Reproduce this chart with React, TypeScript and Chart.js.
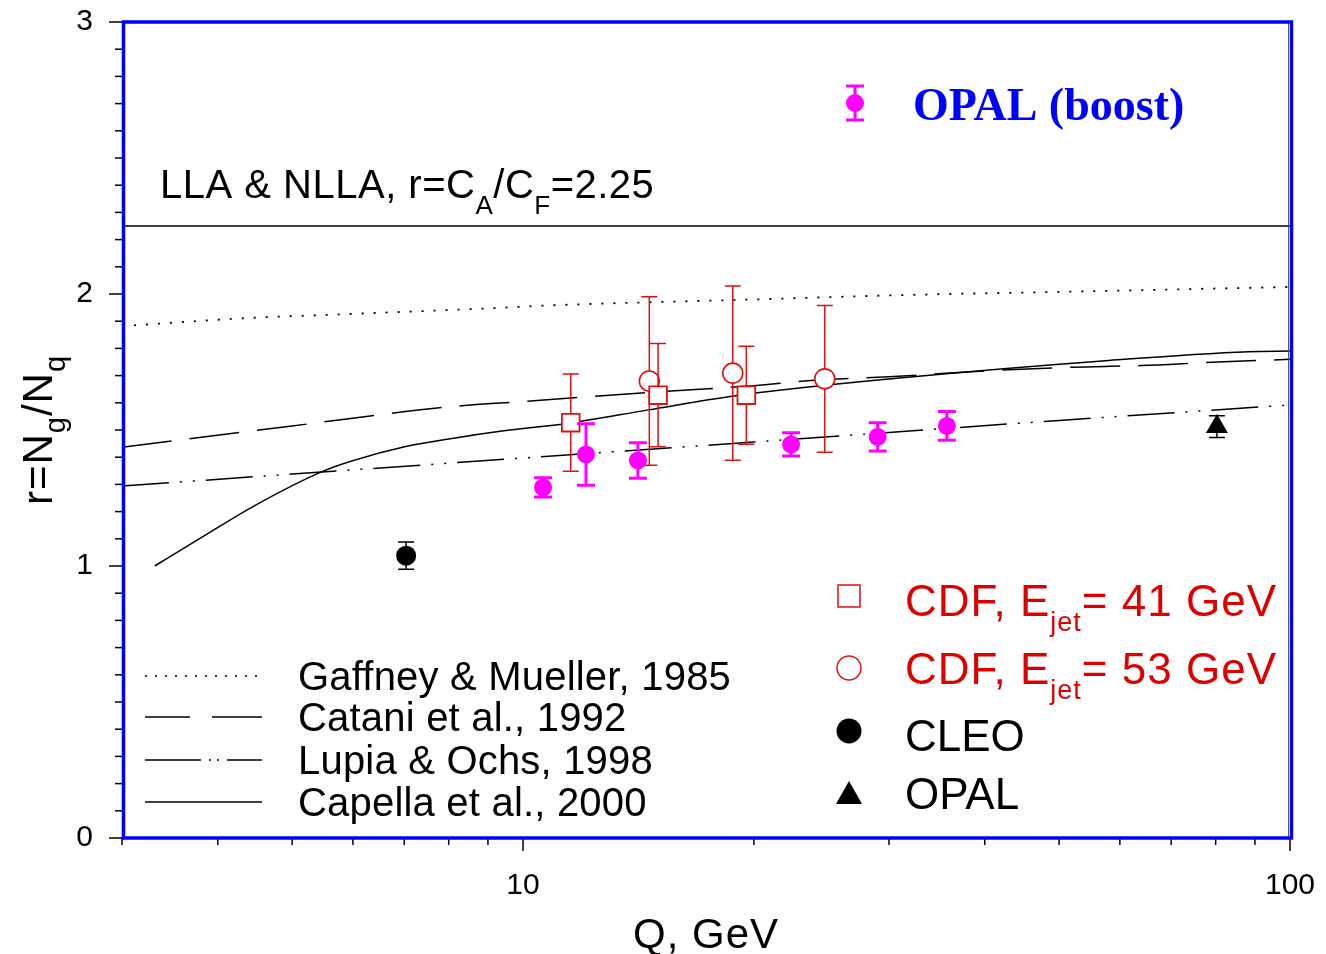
import React, { useEffect, useRef } from "react";
import { Chart, registerables } from "chart.js";

Chart.register(...registerables);

const SANS = "'Liberation Sans', Arial, Helvetica, sans-serif";
const SERIF = "'Liberation Serif', 'Times New Roman', serif";
const MAGENTA = "#ff00ff";
const RED = "#dd1111";
const RED_TEXT = "#dd0000";
const BLUE = "#0000ff";

// ---- axis ticks ----
const xTickValues = [3, 4, 5, 6, 7, 8, 9, 10, 20, 30, 40, 50, 60, 70, 80, 90, 100];
const xTickLabels = [10, 100];
const yTickLabels = [0, 1, 2, 3];

// ---- theory curves (Q in GeV, r) ----
const llaQ = [3, 100];
const llaR = [2.25, 2.25];

const gaffneyQ = [3, 4.34, 6, 9.47, 10.6, 20, 31.2, 50, 100];
const gaffneyR = [1.882, 1.911, 1.927, 1.95, 1.957, 1.98, 1.996, 2.008, 2.026];

const cataniQ = [3, 5, 8, 10, 15, 20, 24, 30, 42, 52, 64, 79, 100];
const cataniR = [1.437, 1.515, 1.585, 1.605, 1.64, 1.663, 1.683, 1.696, 1.72, 1.731, 1.737, 1.749, 1.76];

const lupiaQ = [3, 5, 10, 20, 30, 50, 100];
const lupiaR = [1.294, 1.338, 1.397, 1.456, 1.491, 1.535, 1.592];

const capellaQ = [3.31, 3.8, 4.48, 5.47, 5.98, 7.03, 8.08, 9.39, 11.47, 14.57, 18.92, 31.2, 56.9, 88.3, 100];
const capellaR = [1.0, 1.103, 1.224, 1.347, 1.386, 1.439, 1.469, 1.496, 1.525, 1.574, 1.626, 1.692, 1.754, 1.788, 1.79];

// ---- measurements ----
const opalBoostQ = [10.62, 12.08, 14.12, 22.36, 29.0, 35.7];
const opalBoostR = [1.289, 1.41, 1.388, 1.447, 1.475, 1.515];
const opalBoostErr = [0.035, 0.113, 0.065, 0.043, 0.052, 0.053];

const cdf41Q = [11.54, 15.0, 19.55];
const cdf41R = [1.527, 1.628, 1.628];
const cdf41Err = [0.179, 0.19, 0.18];

const cdf53Q = [14.61, 18.77, 24.74];
const cdf53R = [1.68, 1.709, 1.688];
const cdf53Err = [0.31, 0.32, 0.27];

const cleoQ = [7.04];
const cleoR = [1.038];
const cleoErr = [0.05];

const opalQ = [80.3];
const opalR = [1.512];
const opalErr = [0.04];

const pts = (q: number[], r: number[]) => q.map((x, i) => ({ x, y: r[i] }));

type Seg = { t: string; sub?: boolean };

function drawRich(
  ctx: CanvasRenderingContext2D,
  segs: Seg[],
  x: number,
  y: number,
  size: number,
  opts: { family?: string; weight?: string; color?: string; align?: "left" | "center"; spacing?: number; subScale?: number; subShift?: number } = {}
) {
  const family = opts.family || SANS;
  const weight = opts.weight || "normal";
  const subScale = opts.subScale ?? 0.65;
  const subShift = opts.subShift ?? 0.33;
  ctx.save();
  ctx.fillStyle = opts.color || "#000";
  ctx.textBaseline = "alphabetic";
  ctx.textAlign = "left";
  (ctx as any).letterSpacing = (opts.spacing || 0) + "px";
  const fontFor = (s: Seg) => `${weight} ${s.sub ? Math.round(size * subScale) : size}px ${family}`;
  let total = 0;
  for (const s of segs) {
    ctx.font = fontFor(s);
    total += ctx.measureText(s.t).width;
  }
  let cx = opts.align === "center" ? x - total / 2 : x;
  for (const s of segs) {
    ctx.font = fontFor(s);
    ctx.fillText(s.t, cx, y + (s.sub ? size * subShift : 0));
    cx += ctx.measureText(s.t).width;
  }
  ctx.restore();
}

const errorBarPlugin = {
  id: "errbars",
  beforeDatasetDraw(chart: any, args: any) {
    const ds = chart.data.datasets[args.index];
    if (!ds.errors) return;
    const ys = chart.scales.y;
    const ctx = chart.ctx as CanvasRenderingContext2D;
    ctx.save();
    ctx.strokeStyle = ds.errColor;
    ctx.lineWidth = ds.errWidth;
    ctx.setLineDash([]);
    args.meta.data.forEach((el: any, i: number) => {
      const v = ds.data[i].y;
      const e = ds.errors[i];
      const top = ys.getPixelForValue(v + e);
      const bot = ys.getPixelForValue(v - e);
      ctx.beginPath();
      ctx.moveTo(el.x, top);
      ctx.lineTo(el.x, bot);
      ctx.moveTo(el.x - ds.capHalf, top);
      ctx.lineTo(el.x + ds.capHalf, top);
      ctx.moveTo(el.x - ds.capHalf, bot);
      ctx.lineTo(el.x + ds.capHalf, bot);
      ctx.stroke();
    });
    ctx.restore();
  },
};

const decorPlugin = {
  id: "decor",
  afterDraw(chart: any) {
    const ctx = chart.ctx as CanvasRenderingContext2D;
    const ca = chart.chartArea;
    const xs = chart.scales.x;
    const ys = chart.scales.y;

    // ticks outside the frame
    ctx.save();
    ctx.strokeStyle = "#000";
    ctx.lineWidth = 1.5;
    ctx.setLineDash([]);
    ys.ticks.forEach((t: any) => {
      const py = ys.getPixelForValue(t.value);
      const major = yTickLabels.some((l) => Math.abs(l - t.value) < 1e-6);
      ctx.beginPath();
      ctx.moveTo(ca.left - (major ? 13 : 7), py);
      ctx.lineTo(ca.left, py);
      ctx.stroke();
    });
    xs.ticks.forEach((t: any) => {
      const px = xs.getPixelForValue(t.value);
      const major = xTickLabels.some((l) => Math.abs(l - t.value) < 1e-6);
      ctx.beginPath();
      ctx.moveTo(px, ca.bottom);
      ctx.lineTo(px, ca.bottom + (major ? 13 : 7));
      ctx.stroke();
    });
    ctx.restore();

    // frame
    ctx.save();
    ctx.strokeStyle = "#555";
    ctx.lineWidth = 1;
    ctx.beginPath();
    ctx.moveTo(ca.right - 1.5, ca.top);
    ctx.lineTo(ca.right - 1.5, ca.bottom);
    ctx.stroke();
    ctx.strokeStyle = BLUE;
    ctx.lineWidth = 3.5;
    ctx.strokeRect(ca.left + 1.5, ca.top, ca.right - ca.left, ca.bottom - ca.top);
    ctx.restore();

    // axis titles
    drawRich(ctx, [{ t: "Q, GeV" }], 706, 948, 42, { align: "center", spacing: 1 });
    ctx.save();
    ctx.translate(52, 430);
    ctx.rotate(-Math.PI / 2);
    drawRich(ctx, [{ t: "r=N" }, { t: "g", sub: true }, { t: "/N" }, { t: "q", sub: true }], 0, 0, 42, {
      align: "center",
      subScale: 0.7,
      subShift: 0.3,
      spacing: 1,
    });
    ctx.restore();

    // LLA annotation
    drawRich(ctx, [{ t: "LLA & NLLA, r=C" }, { t: "A", sub: true }, { t: "/C" }, { t: "F", sub: true }, { t: "=2.25" }], 160, 198, 40, {
      subScale: 0.65,
      subShift: 0.4,
      spacing: 0.5,
    });

    // OPAL (boost) legend
    ctx.save();
    ctx.strokeStyle = MAGENTA;
    ctx.fillStyle = MAGENTA;
    ctx.lineWidth = 3;
    ctx.beginPath();
    ctx.moveTo(855, 86);
    ctx.lineTo(855, 120);
    ctx.moveTo(846, 86);
    ctx.lineTo(864, 86);
    ctx.moveTo(846, 120);
    ctx.lineTo(864, 120);
    ctx.stroke();
    ctx.beginPath();
    ctx.arc(855, 103, 9, 0, Math.PI * 2);
    ctx.fill();
    ctx.restore();
    drawRich(ctx, [{ t: "OPAL (boost)" }], 913, 120, 46, { family: SERIF, weight: "bold", color: BLUE });

    // theory legend (bottom left)
    const lineLegend: { label: string; dash: number[]; y: number }[] = [
      { label: "Gaffney & Mueller, 1985", dash: [2, 8], y: 676 },
      { label: "Catani et al., 1992", dash: [45, 22, 52], y: 717 },
      { label: "Lupia & Ochs, 1998", dash: [56, 8, 2, 6, 2, 8, 60], y: 760 },
      { label: "Capella et al., 2000", dash: [], y: 802 },
    ];
    lineLegend.forEach((l) => {
      ctx.save();
      ctx.strokeStyle = "#000";
      ctx.lineWidth = 1.5;
      ctx.setLineDash(l.dash);
      ctx.beginPath();
      ctx.moveTo(145, l.y);
      ctx.lineTo(262, l.y);
      ctx.stroke();
      ctx.restore();
      drawRich(ctx, [{ t: l.label }], 298, l.y + 14, 40, { spacing: 0.2 });
    });

    // data legend (bottom right)
    ctx.save();
    ctx.lineWidth = 1.5;
    ctx.strokeStyle = RED;
    ctx.fillStyle = "#fff";
    ctx.fillRect(838, 585, 22, 22);
    ctx.strokeRect(838, 585, 22, 22);
    ctx.beginPath();
    ctx.arc(849, 668, 12, 0, Math.PI * 2);
    ctx.fill();
    ctx.stroke();
    ctx.fillStyle = "#000";
    ctx.beginPath();
    ctx.arc(849, 731, 12.5, 0, Math.PI * 2);
    ctx.fill();
    ctx.beginPath();
    ctx.moveTo(849, 781);
    ctx.lineTo(862, 804);
    ctx.lineTo(836, 804);
    ctx.closePath();
    ctx.fill();
    ctx.restore();
    drawRich(ctx, [{ t: "CDF, E" }, { t: "jet", sub: true }, { t: "= 41 GeV" }], 905, 616, 44, { color: RED_TEXT, subScale: 0.62, subShift: 0.33, spacing: 1 });
    drawRich(ctx, [{ t: "CDF, E" }, { t: "jet", sub: true }, { t: "= 53 GeV" }], 905, 684, 44, { color: RED_TEXT, subScale: 0.62, subShift: 0.33, spacing: 1 });
    drawRich(ctx, [{ t: "CLEO" }], 905, 751, 44);
    drawRich(ctx, [{ t: "OPAL" }], 905, 809, 44);
  },
};

const zeroPad = (s: any) => {
  s.paddingTop = 0;
  s.paddingBottom = 0;
  s.paddingLeft = 0;
  s.paddingRight = 0;
};

export default function App() {
  const canvasRef = useRef<HTMLCanvasElement | null>(null);

  useEffect(() => {
    if (!canvasRef.current) return;
    const lineBase = {
      showLine: true,
      pointRadius: 0,
      borderColor: "#000",
      borderWidth: 1.5,
      fill: false,
      cubicInterpolationMode: "monotone",
      order: 2,
    };
    const chart = new Chart(canvasRef.current, {
      type: "scatter",
      data: {
        datasets: [
          {
            label: "OPAL (boost)",
            data: pts(opalBoostQ, opalBoostR),
            pointStyle: "circle",
            pointRadius: 9,
            pointBackgroundColor: MAGENTA,
            pointBorderColor: MAGENTA,
            pointBorderWidth: 0,
            errors: opalBoostErr,
            errColor: MAGENTA,
            errWidth: 3,
            capHalf: 9,
            order: 0,
          },
          {
            label: "CDF, Ejet= 41 GeV",
            data: pts(cdf41Q, cdf41R),
            pointStyle: "rect",
            pointRadius: 12.5,
            pointBackgroundColor: "#fff",
            pointBorderColor: RED,
            pointBorderWidth: 1.8,
            errors: cdf41Err,
            errColor: RED,
            errWidth: 1.5,
            capHalf: 8,
            order: 1,
          },
          {
            label: "CDF, Ejet= 53 GeV",
            data: pts(cdf53Q, cdf53R),
            pointStyle: "circle",
            pointRadius: 10,
            pointBackgroundColor: "#fff",
            pointBorderColor: RED,
            pointBorderWidth: 1.6,
            errors: cdf53Err,
            errColor: RED,
            errWidth: 1.5,
            capHalf: 8,
            order: 1,
          },
          {
            label: "CLEO",
            data: pts(cleoQ, cleoR),
            pointStyle: "circle",
            pointRadius: 10,
            pointBackgroundColor: "#000",
            pointBorderColor: "#000",
            pointBorderWidth: 0,
            errors: cleoErr,
            errColor: "#000",
            errWidth: 1.5,
            capHalf: 8,
            order: 0,
          },
          {
            label: "OPAL",
            data: pts(opalQ, opalR),
            pointStyle: "triangle",
            pointRadius: 12.7,
            pointBackgroundColor: "#000",
            pointBorderColor: "#000",
            pointBorderWidth: 0,
            errors: opalErr,
            errColor: "#000",
            errWidth: 1.5,
            capHalf: 8,
            order: 0,
          },
          { ...lineBase, label: "LLA & NLLA", data: pts(llaQ, llaR), cubicInterpolationMode: "default" },
          { ...lineBase, label: "Gaffney & Mueller, 1985", data: pts(gaffneyQ, gaffneyR), borderDash: [2, 10], borderWidth: 1.8 },
          { ...lineBase, label: "Catani et al., 1992", data: pts(cataniQ, cataniR), borderDash: [50, 18] },
          { ...lineBase, label: "Lupia & Ochs, 1998", data: pts(lupiaQ, lupiaR), borderDash: [47, 11, 2, 11, 2, 11] },
          { ...lineBase, label: "Capella et al., 2000", data: pts(capellaQ, capellaR) },
        ] as any,
      },
      options: {
        animation: false,
        responsive: false,
        devicePixelRatio: 1,
        events: [],
        layout: { padding: { top: 22, right: 36, left: 0, bottom: 0 } },
        plugins: {
          legend: { display: false },
          tooltip: { enabled: false },
          title: { display: false },
        },
        scales: {
          x: {
            type: "logarithmic",
            min: 3,
            max: 100,
            grid: { display: false, drawTicks: false },
            border: { display: false },
            afterBuildTicks: (s: any) => {
              s.ticks = xTickValues.map((v) => ({ value: v }));
            },
            afterFit: (s: any) => {
              s.height = 116;
              zeroPad(s);
            },
            ticks: {
              autoSkip: false,
              maxRotation: 0,
              padding: 30,
              color: "#000",
              font: { family: SANS, size: 30 },
              callback: (v: any) => (xTickLabels.includes(Number(v)) ? String(v) : ""),
            },
          },
          y: {
            type: "linear",
            min: 0,
            max: 3,
            grid: { display: false, drawTicks: false },
            border: { display: false },
            afterFit: (s: any) => {
              s.width = 122;
              zeroPad(s);
            },
            ticks: {
              stepSize: 0.1,
              autoSkip: false,
              padding: 29,
              color: "#000",
              font: { family: SANS, size: 30 },
              callback: (v: any) => {
                const l = yTickLabels.find((t) => Math.abs(t - Number(v)) < 1e-6);
                return l === undefined ? "" : String(l);
              },
            },
          },
        },
      } as any,
      plugins: [errorBarPlugin, decorPlugin],
    });
    return () => chart.destroy();
  }, []);

  return (
    <div style={{ position: "absolute", left: 0, top: 0, width: 1326, height: 954, background: "#fff" }}>
      <canvas ref={canvasRef} width={1326} height={954} style={{ display: "block", width: 1326, height: 954 }} />
    </div>
  );
}
